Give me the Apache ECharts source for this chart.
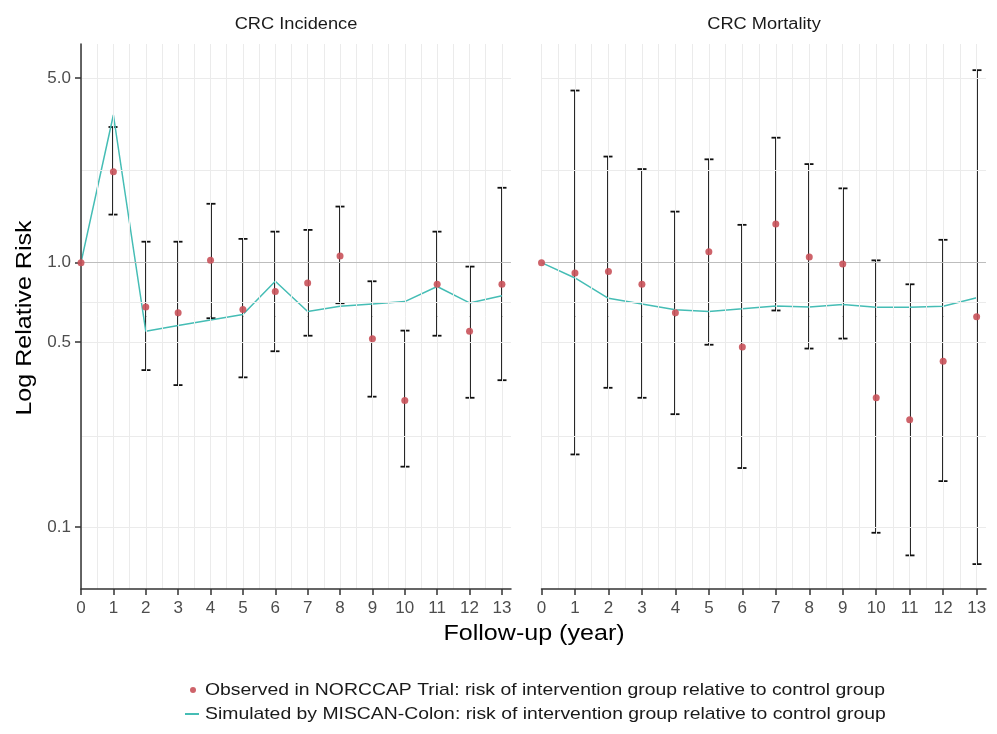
<!DOCTYPE html>
<html>
<head>
<meta charset="utf-8">
<script src="https://cdn.jsdelivr.net/npm/echarts@6/dist/echarts.min.js"></script>
<style>html,body{margin:0;padding:0;background:#fff}#c{width:997px;height:734px}</style>
</head>
<body>
<div id="c"></div>
<script>
const years = [0,1,2,3,4,5,6,7,8,9,10,11,12,13];
const incObs  = [1.0, 2.21, 0.68, 0.646, 1.02, 0.664, 0.777, 0.838, 1.06, 0.515, 0.301, 0.828, 0.55, 0.828];
const incLow  = [null, 1.52, 0.392, 0.344, 0.616, 0.368, 0.462, 0.529, 0.702, 0.311, 0.169, 0.529, 0.308, 0.359];
const incHigh = [null, 3.26, 1.20, 1.20, 1.67, 1.23, 1.31, 1.33, 1.63, 0.85, 0.553, 1.31, 0.966, 1.92];
const incSim  = [1.0, 3.62, 0.55, 0.578, 0.607, 0.636, 0.85, 0.653, 0.684, 0.698, 0.712, 0.812, 0.704, 0.75];
const morObs  = [1.0, 0.914, 0.925, 0.828, 0.646, 1.10, 0.479, 1.40, 1.05, 0.989, 0.308, 0.2545, 0.423, 0.624];
const morLow  = [null, 0.188, 0.336, 0.308, 0.267, 0.489, 0.167, 0.659, 0.473, 0.516, 0.095, 0.078, 0.149, 0.0723];
const morHigh = [null, 4.48, 2.52, 2.26, 1.56, 2.46, 1.39, 2.97, 2.36, 1.91, 1.02, 0.828, 1.22, 5.35];
const morSim  = [1.0, 0.875, 0.733, 0.698, 0.663, 0.653, 0.669, 0.686, 0.68, 0.694, 0.678, 0.678, 0.684, 0.736];
const yTicks = [0.1, 0.5, 1, 5];
const yMinor = [0.2236, 0.7071, 2.236];
const panelTitles = ['CRC Incidence', 'CRC Mortality'];
const obsName = 'Observed in NORCCAP Trial: risk of intervention group relative to control group';
const simName = 'Simulated by MISCAN-Colon: risk of intervention group relative to control group';

const FONT = 'Liberation Sans, Arial, sans-serif';
const RED = '#c9525a', TEAL = '#45bdb5';
const SX = 1.14;
const xGrid = [];
for (let v = 0; v <= 13; v += 0.5) xGrid.push(v);

const chart = echarts.init(document.getElementById('c'));

function xAxisCfg(idx) {
  return {
    type: 'value', gridIndex: idx, min: 0, max: 13.28, z: 5,
    axisLine: {show: true, lineStyle: {color: '#333', width: 1.5}},
    axisTick: {show: true, customValues: years, length: 6, lineStyle: {color: '#333', width: 1.5}},
    axisLabel: {customValues: years, color: '#4d4d4d', fontSize: 17, fontFamily: FONT, margin: 11},
    splitLine: {show: false}
  };
}
function yAxisCfg(idx) {
  return {
    type: 'log', logBase: 10, gridIndex: idx, min: 0.0582, max: 6.72, z: 5,
    axisLine: {show: idx === 0, lineStyle: {color: '#333', width: 1.5}},
    axisTick: {show: idx === 0, customValues: yTicks, length: 6, lineStyle: {color: '#333', width: 1.5}},
    axisLabel: {show: idx === 0, customValues: yTicks, color: '#4d4d4d', fontSize: 17, fontFamily: FONT, margin: 10,
      formatter: v => Number(v).toFixed(1)},
    splitLine: {show: false}, minorSplitLine: {show: false}
  };
}
function errData(low, high) {
  const d = [];
  years.forEach((x, i) => { if (low[i] != null) d.push([x, low[i], high[i]]); });
  return d;
}
function errSeries(idx, low, high) {
  return {
    type: 'custom', xAxisIndex: idx, yAxisIndex: idx, z: 3, silent: true,
    data: errData(low, high),
    encode: {x: 0, y: [1, 2]},
    renderItem: function (params, api) {
      const x = api.value(0);
      const p1 = api.coord([x, api.value(1)]);
      const p2 = api.coord([x, api.value(2)]);
      const hw = 4.5;
      const cx = Math.round(p1[0]);
      const st = {stroke: '#111', lineWidth: 1.8, fill: null};
      return {type: 'group', children: [
        {type: 'line', shape: {x1: cx, y1: p1[1], x2: cx, y2: p2[1]}, style: st},
        {type: 'line', shape: {x1: cx-hw, y1: p1[1], x2: cx+hw, y2: p1[1]}, style: st},
        {type: 'line', shape: {x1: cx-hw, y1: p2[1], x2: cx+hw, y2: p2[1]}, style: st}
      ]};
    }
  };
}
function gridSeries(idx) {
  const data = [];
  yTicks.concat(yMinor).forEach(v => { if (v !== 1) data.push({yAxis: v}); });
  xGrid.forEach(v => data.push({xAxis: v}));
  return {
    type: 'line', xAxisIndex: idx, yAxisIndex: idx, data: [], z: 1, silent: true,
    markLine: {silent: true, symbol: 'none', label: {show: false}, animation: false,
      lineStyle: {color: '#ebebeb', width: 1, type: 'solid'}, data: data}
  };
}
function refSeries(idx) {
  return {
    type: 'line', xAxisIndex: idx, yAxisIndex: idx, data: [], z: 2, silent: true,
    markLine: {silent: true, symbol: 'none', label: {show: false}, animation: false,
      lineStyle: {color: '#bdbdbd', width: 1.2, type: 'solid'}, data: [{yAxis: 1}]}
  };
}
function simSeries(idx, vals) {
  return {
    name: simName, type: 'line', xAxisIndex: idx, yAxisIndex: idx, z: 4,
    data: years.map((x, i) => [x, vals[i]]), symbol: 'none', showSymbol: false,
    lineStyle: {color: TEAL, width: 1.5}, itemStyle: {color: TEAL}, animation: false
  };
}
function obsSeries(idx, vals) {
  return {
    name: obsName, type: 'scatter', xAxisIndex: idx, yAxisIndex: idx, z: 5,
    data: years.map((x, i) => [x, vals[i]]), symbolSize: 7,
    itemStyle: {color: RED, opacity: 0.9}, animation: false
  };
}
function txt(text, x, y, size, fill, extra, align) {
  return Object.assign({type: 'text', x: x, y: y, scaleX: SX,
    style: {text: text, fontSize: size, fontFamily: FONT, fill: fill, align: align || 'center', verticalAlign: 'middle'}}, extra || {});
}

const option = {
  animation: false,
  backgroundColor: '#fff',
  grid: [
    {left: 81, top: 44, width: 430, height: 545},
    {left: 541.5, top: 44, width: 444.5, height: 545}
  ],
  xAxis: [xAxisCfg(0), xAxisCfg(1)],
  yAxis: [yAxisCfg(0), yAxisCfg(1)],
  graphic: [
    txt(panelTitles[0], 296, 25, 16, '#1a1a1a'),
    txt(panelTitles[1], 764, 25, 16, '#1a1a1a'),
    txt('Follow-up (year)', 534, 634, 22, '#000'),
    txt('Log Relative Risk', 25, 318, 22, '#000', {rotation: Math.PI / 2}),
    {type: 'circle', x: 193, y: 690, shape: {r: 3}, style: {fill: RED, opacity: 0.9}},
    {type: 'line', shape: {x1: 185, y1: 714, x2: 199, y2: 714}, style: {stroke: TEAL, lineWidth: 2}},
    txt(obsName, 205, 690, 17, '#1a1a1a', null, 'left'),
    txt(simName, 205, 714, 17, '#1a1a1a', null, 'left')
  ],
  series: [
    gridSeries(0), gridSeries(1), refSeries(0), refSeries(1),
    errSeries(0, incLow, incHigh), errSeries(1, morLow, morHigh),
    simSeries(0, incSim), simSeries(1, morSim),
    obsSeries(0, incObs), obsSeries(1, morObs)
  ]
};
chart.setOption(option);
</script>
</body>
</html>
